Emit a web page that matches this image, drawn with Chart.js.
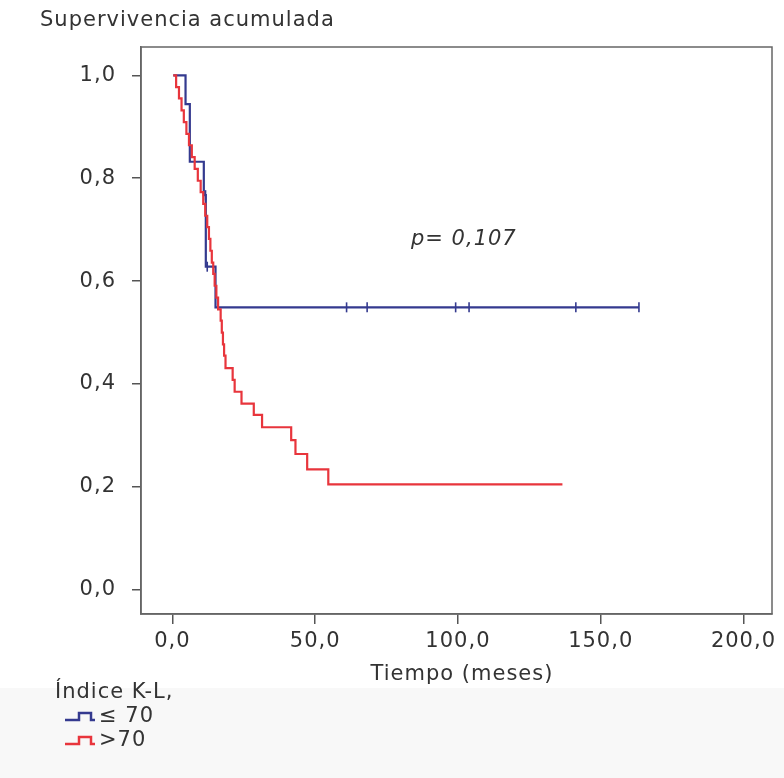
<!DOCTYPE html>
<html>
<head>
<meta charset="utf-8">
<script src="https://cdn.jsdelivr.net/npm/chart.js@4/dist/chart.umd.min.js"></script>
<style>
  html, body { margin: 0; padding: 0; background: #fff; }
  #wrap { width: 784px; height: 778px; position: relative; }
</style>
</head>
<body>
<div id="wrap"><canvas id="km"></canvas></div>
<script>
// Kaplan-Meier curves (time in months, cumulative survival)
var blueTimes = [0.3, 4.6, 6.1, 11.0, 11.7, 15.1, 163.4];
var blueSurv = [1.0, 0.944, 0.832, 0.767, 0.628, 0.549, 0.549];
var blueCensorTimes = [11.6, 12.2, 61.0, 68.2, 99.2, 103.9, 141.3, 163.4];
var blueCensorSurv = [0.767, 0.628, 0.549, 0.549, 0.549, 0.549, 0.549, 0.549];

var redTimes = [0.3, 1.3, 2.3, 3.2, 4.0, 4.9, 5.8, 6.8, 7.8, 8.9, 9.9, 10.8, 11.5, 12.2, 12.8,
    13.3, 13.8, 14.3, 14.8, 15.4, 16.0, 16.9, 17.3, 17.7, 18.1, 18.6, 21.1, 21.8, 24.2,
    28.5, 31.4, 41.6, 43.1, 47.2, 54.6, 136.6];
var redSurv = [1.0, 0.977, 0.955, 0.932, 0.909, 0.886, 0.864, 0.841, 0.818, 0.795, 0.773, 0.750,
    0.727, 0.705, 0.682, 0.659, 0.636, 0.614, 0.591, 0.568, 0.545, 0.523, 0.500, 0.477, 0.455,
    0.431, 0.408, 0.385, 0.362, 0.340, 0.316, 0.291, 0.264, 0.234, 0.205, 0.205];

var xTicks = [0, 50, 100, 150, 200];
var yTicks = [0, 0.2, 0.4, 0.6, 0.8, 1.0];
var groupLabels = ['\u2264 70', '>70'];
var legendTitle = '\u00CDndice K-L,';
var pValueText = 'p= 0,107';

var BLUE = '#343a8f';
var RED = '#e8353c';
var INK = '#333';
var FONT = '"DejaVu Sans", Verdana, sans-serif';
var FSIZE = 21;

function toPoints(xs, ys) {
    return xs.map(function (x, i) { return { x: x, y: ys[i] }; });
}
function fmt(v) {
    return v.toFixed(1).replace('.', ',');
}

// draws the box, titles, p-value and the step legend
var decorations = {
    id: 'decorations',
    beforeDraw: function (chart) {
        var ctx = chart.ctx;
        ctx.fillStyle = '#f8f8f8';
        ctx.fillRect(0, 688, chart.width, chart.height - 688);
        ctx.letterSpacing = '1px'; // wide, Verdana-like text everywhere
    },
    afterDraw: function (chart) {
        var ctx = chart.ctx, a = chart.chartArea;
        ctx.save();
        ctx.strokeStyle = '#666';
        ctx.lineWidth = 1.5;
        ctx.strokeRect(a.left, a.top, a.right - a.left, a.bottom - a.top);

        ctx.fillStyle = INK;
        ctx.font = FSIZE + 'px ' + FONT;
        ctx.textBaseline = 'middle';
        ctx.textAlign = 'left';
        ctx.fillText('Supervivencia acumulada', 40, 21);

        ctx.textAlign = 'center';
        ctx.fillText('Tiempo (meses)', 462, 675);

        ctx.font = 'italic ' + FSIZE + 'px ' + FONT;
        ctx.textAlign = 'left';
        ctx.fillText(pValueText, 411, 240);

        // legend
        ctx.font = FSIZE + 'px ' + FONT;
        ctx.fillText(legendTitle, 55, 693);
        var rows = [{ c: BLUE, y: 717 }, { c: RED, y: 741 }];
        rows.forEach(function (r, i) {
            ctx.strokeStyle = r.c;
            ctx.lineWidth = 2.5;
            ctx.beginPath();
            ctx.moveTo(65, r.y + 3);
            ctx.lineTo(79, r.y + 3);
            ctx.lineTo(79, r.y - 4);
            ctx.lineTo(91, r.y - 4);
            ctx.lineTo(91, r.y + 3);
            ctx.lineTo(95, r.y + 3);
            ctx.stroke();
            ctx.fillStyle = INK;
            ctx.fillText(groupLabels[i], 99, r.y);
        });
        ctx.restore();
    }
};

new Chart(document.getElementById('km'), {
    type: 'line',
    data: {
        datasets: [
            {
                label: groupLabels[1],
                data: toPoints(redTimes, redSurv),
                borderColor: RED,
                borderWidth: 2.2,
                stepped: 'before',
                pointRadius: 0,
                fill: false
            },
            {
                label: groupLabels[0],
                data: toPoints(blueTimes, blueSurv),
                borderColor: BLUE,
                borderWidth: 2.2,
                stepped: 'before',
                pointRadius: 0,
                fill: false
            },
            {
                label: 'censored',
                type: 'scatter',
                data: toPoints(blueCensorTimes, blueCensorSurv),
                pointStyle: 'line',
                rotation: 90,
                pointRadius: 5,
                borderColor: BLUE,
                pointBorderWidth: 1.6,
                showLine: false
            }
        ]
    },
    plugins: [decorations],
    options: {
        responsive: true,
        maintainAspectRatio: false,
        animation: false,
        layout: { padding: { top: 47, right: 12, left: 0, bottom: 0 } },
        plugins: {
            legend: { display: false },
            tooltip: { enabled: false }
        },
        scales: {
            x: {
                type: 'linear',
                min: -11,
                max: 210,
                afterBuildTicks: function (s) { s.ticks = xTicks.map(function (v) { return { value: v }; }); },
                afterFit: function (s) { s.height = 164; },
                grid: { drawOnChartArea: false, drawTicks: true, tickLength: 10, color: '#555', lineWidth: 1.5 },
                border: { display: true, color: '#666', width: 1.5 },
                ticks: {
                    padding: 5,
                    color: INK,
                    font: { family: FONT, size: FSIZE },
                    maxRotation: 0,
                    callback: function (v) { return fmt(v); }
                }
            },
            y: {
                min: -0.047,
                max: 1.055,
                afterBuildTicks: function (s) { s.ticks = yTicks.map(function (v) { return { value: v }; }); },
                afterFit: function (s) { s.width = 141; },
                grid: { drawOnChartArea: false, drawTicks: true, tickLength: 9, color: '#555', lineWidth: 1.5 },
                border: { display: true, color: '#666', width: 1.5 },
                ticks: {
                    padding: 16,
                    color: INK,
                    font: { family: FONT, size: FSIZE },
                    callback: function (v) { return fmt(v); }
                }
            }
        }
    }
});
</script>
</body>
</html>
